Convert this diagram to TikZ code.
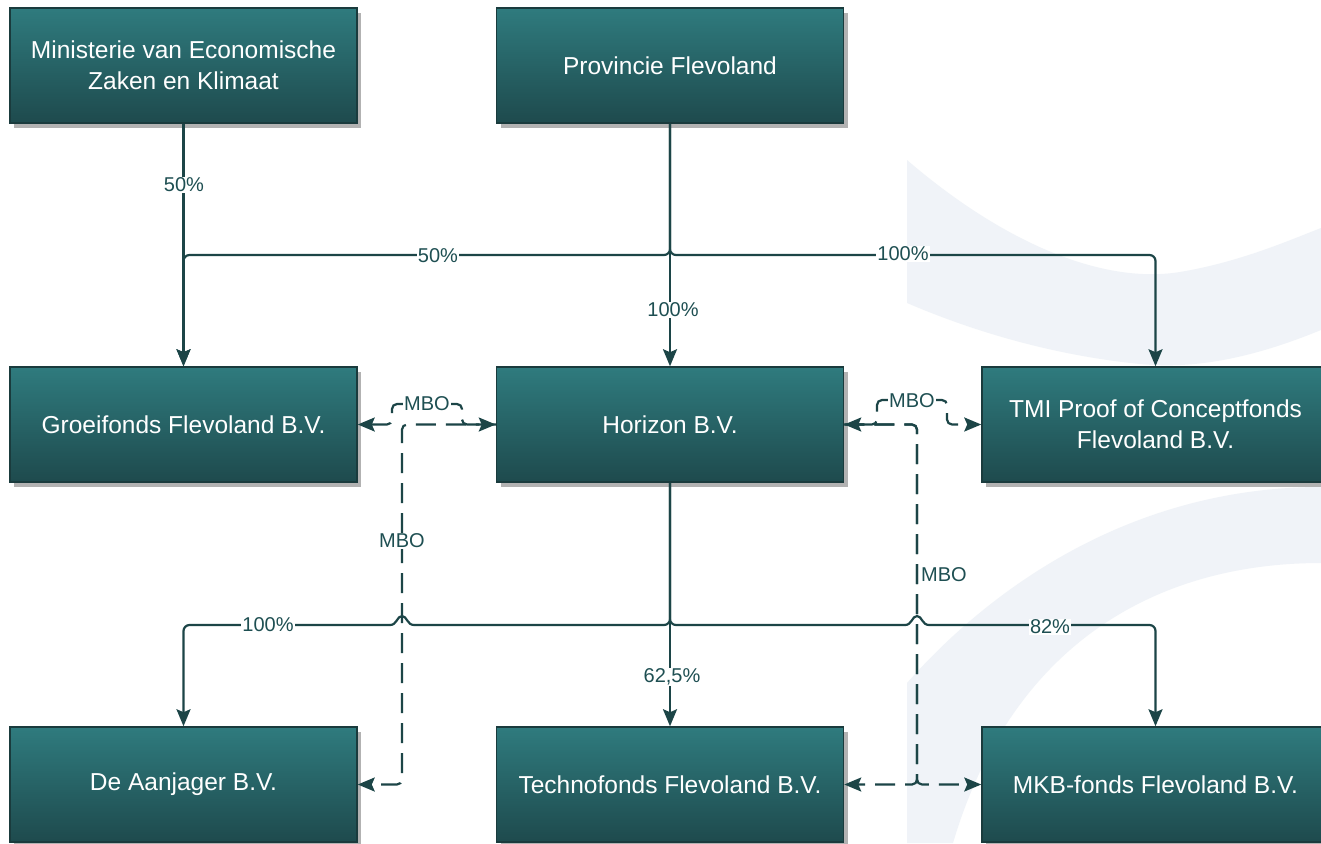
\documentclass[tikz,border=0pt]{standalone}
\usepackage{fontspec}
\setmainfont{Liberation Sans}
\usetikzlibrary{arrows.meta,shadows}
\definecolor{boxtop}{HTML}{2F7B7E}
\definecolor{boxbot}{HTML}{1E4A4D}
\definecolor{boxline}{HTML}{1A3B3D}
\definecolor{linec}{HTML}{1C4547}
\definecolor{labc}{HTML}{1E4F52}
\definecolor{bgshape}{HTML}{F0F3F8}
\begin{document}
\begin{tikzpicture}[x=1pt,y=-1pt,
  orgbox/.style={rectangle, minimum width=347pt, minimum height=115pt,
    top color=boxtop, bottom color=boxbot, draw=boxline, line width=1.5pt,
    text=white, font=\fontsize{24.5}{31}\selectfont, align=center, inner sep=0pt,
    drop shadow={shadow xshift=4pt, shadow yshift=-5pt, opacity=0.3, fill=black}},
  tip/.style={-{Stealth[length=17pt,width=14pt,inset=3pt]}},
  bitip/.style={{Stealth[length=17pt,width=14pt,inset=3pt]}-{Stealth[length=17pt,width=14pt,inset=3pt]}},
  conn/.style={draw=linec, line width=2.2pt, rounded corners=6pt, tip},
  link/.style={draw=linec, line width=2.2pt},
  dconn/.style={draw=linec, line width=2.2pt, dash pattern=on 20pt off 10pt, rounded corners=5pt},
  lab/.style={fill=white, text=labc, font=\fontsize{20}{22}\selectfont, inner sep=1pt},
  plainlab/.style={text=labc, font=\fontsize{20}{22}\selectfont, inner sep=1pt},
]
\useasboundingbox (0,0) rectangle (1321,843);
\clip (0,0) rectangle (1321,843);
\fill[white] (0,0) rectangle (1321,843);

% background logo shapes
\fill[bgshape] (907,160) .. controls (1000,240) and (1100,285) .. (1180,272)
  .. controls (1240,262) and (1290,240) .. (1321,228) -- (1321,330)
  .. controls (1260,355) and (1200,370) .. (1140,364)
  .. controls (1050,355) and (970,330) .. (907,303) -- cycle;
\fill[bgshape] (907,843) -- (907,683) .. controls (980,600) and (1120,487) .. (1321,487)
  -- (1321,563) .. controls (1150,563) and (1010,650) .. (953,843) -- cycle;

% boxes
\node[orgbox] (min) at (183.5,65.5) {Ministerie van Economische\\Zaken en Klimaat};
\node[orgbox] (pro) at (670,65.5) {Provincie Flevoland};
\node[orgbox] (gro) at (183.5,424.5) {Groeifonds Flevoland B.V.};
\node[orgbox] (hor) at (670,424.5) {Horizon B.V.};
\node[orgbox] (tmi) at (1155.5,424.5) {TMI Proof of Conceptfonds\\Flevoland B.V.};
\node[orgbox] (aan) at (183.5,784.5) {De Aanjager B.V.};
\node[orgbox] (tec) at (670,784.5) {Technofonds Flevoland B.V.};
\node[orgbox] (mkb) at (1155.5,784.5) {MKB-fonds Flevoland B.V.};

% solid ownership connectors
\draw[conn] (min.south) -- (gro.north);
\draw[conn] (pro.south) -- (hor.north);
\draw[conn] (pro.south) -- (670,255) -- (183.5,255) -- (gro.north);
\draw[conn] (pro.south) -- (670,255) -- (1155.5,255) -- (tmi.north);
\draw[conn] (hor.south) -- (tec.north);
\draw[conn] (hor.south) -- (670,625) -- (183.5,625) -- (aan.north);
\draw[conn] (hor.south) -- (670,625) -- (1155.5,625) -- (mkb.north);

% line jumps over the dashed verticals
\fill[white] (390,619) rectangle (414,629);
\draw[link] (414,625) .. controls (407,625) and (407,616) .. (402,616)
  .. controls (397,616) and (397,625) .. (390,625);
\fill[white] (905,619) rectangle (929,629);
\draw[link] (905,625) .. controls (912,625) and (912,616) .. (917,616)
  .. controls (922,616) and (922,625) .. (929,625);

% dashed MBO connectors
\draw[dconn, bitip]
  (gro.east) -- (392,424.5) -- (392,404) -- (462,404) -- (462,424.5) -- (hor.west);
\draw[dconn, tip] (hor.west) -- (402,424.5) -- (402,784.5) -- (aan.east);
\draw[dconn, bitip]
  (hor.east) -- (877,424.5) -- (877,400) -- (947,400) -- (947,424.5) -- (tmi.west);
\draw[dconn, tip] (hor.east) -- (917,424.5) -- (917,784.5) -- (tec.east);
\draw[dconn, tip] (hor.east) -- (917,424.5) -- (917,784.5) -- (mkb.west);

% labels
\node[lab] at (184,185) {50\%};
\node[lab] at (438,256) {50\%};
\node[lab] at (903,254) {100\%};
\node[lab] at (673,310) {100\%};
\node[lab] at (268,625) {100\%};
\node[lab] at (1050,627) {82\%};
\node[lab] at (672,677) {62,5\%};
\node[lab] at (427,404) {MBO};
\node[lab] at (912,401) {MBO};
\node[lab] at (402,541) {MBO};
\node[plainlab, anchor=west] at (920,575) {MBO};
\end{tikzpicture}
\end{document}
